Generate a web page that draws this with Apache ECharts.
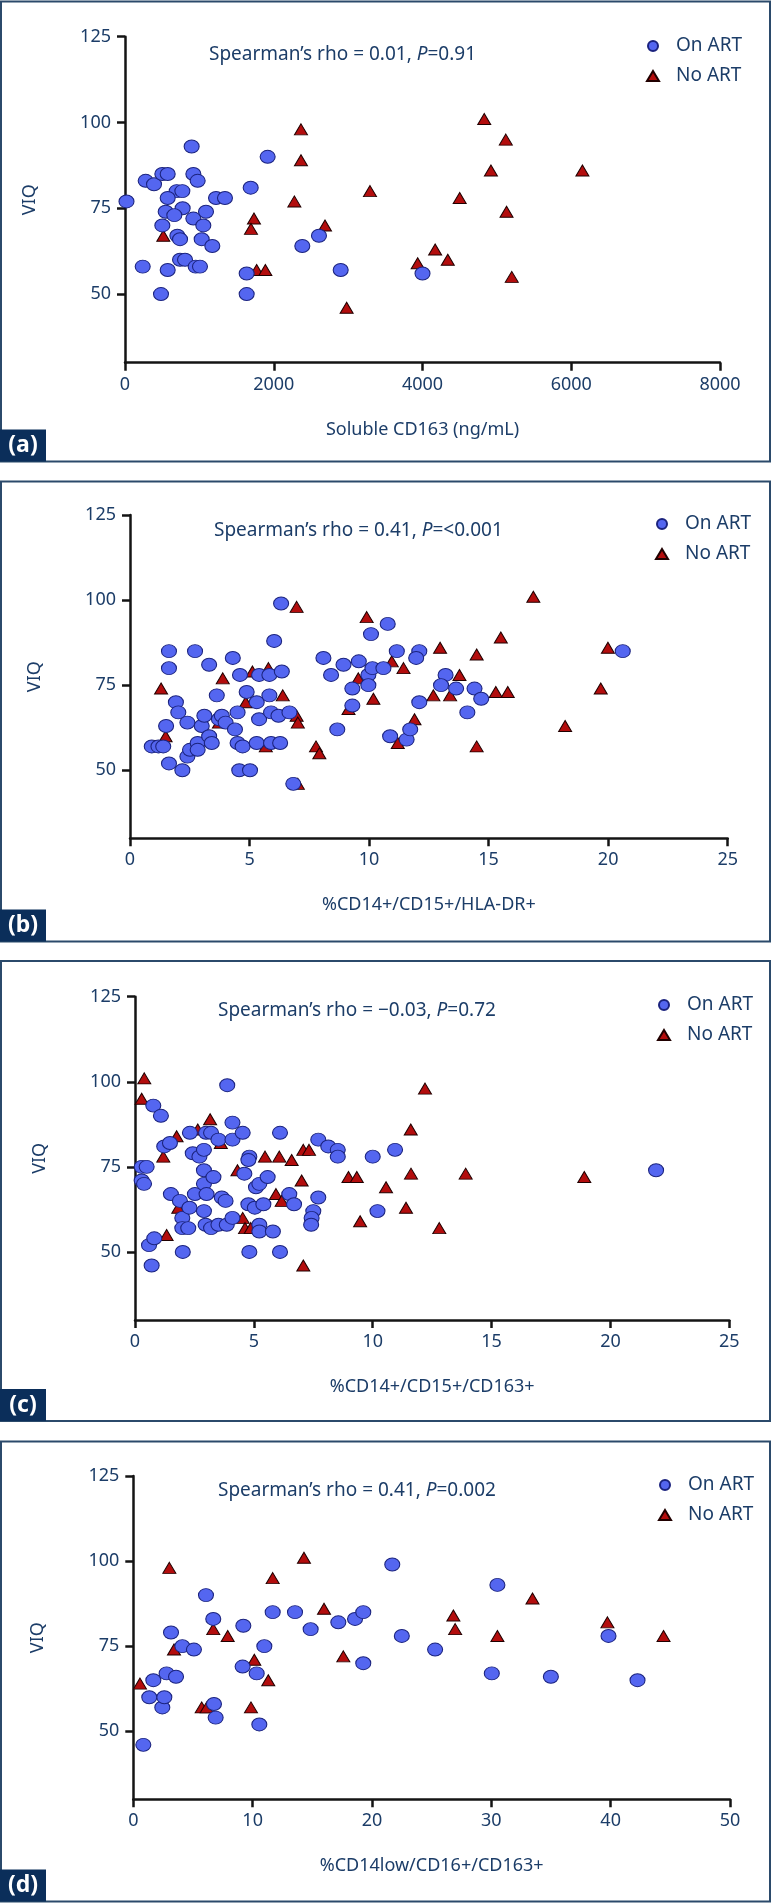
<!DOCTYPE html>
<html><head><meta charset="utf-8">
<script src="https://cdn.jsdelivr.net/npm/echarts@6/dist/echarts.min.js"></script>
<style>html,body{margin:0;padding:0;background:#fff}#c{width:773px;height:1903px}</style>
</head><body><div id="c"></div>
<script>
// ---------- data ----------
const panelLabels = ['(a)', '(b)', '(c)', '(d)'];
const xNames = ['Soluble CD163 (ng/mL)', '%CD14+/CD15+/HLA-DR+', '%CD14+/CD15+/CD163+', '%CD14low/CD16+/CD163+'];
const rhoValues = ['0.01', '0.41', '\u22120.03', '0.41'];
const pValues = ['0.91', '<0.001', '0.72', '0.002'];
const xMax = [8000, 25, 25, 50];
const xStep = [2000, 5, 5, 10];
const yTicks = [50, 75, 100, 125];
const groupNames = ['On ART', 'No ART'];

const aOnART = [[20,77],[278,83],[390,82],[502,85],[574,85],[896,93],[919,85],[977,83],[695,80],[771,80],[574,78],[775,75],[547,74],[663,73],[919,72],[1089,74],[1053,70],[502,70],[704,67],[740,66],[1031,66],[1174,64],[1224,78],[1344,78],[1690,81],[1918,90],[238,58],[574,57],[740,60],[807,60],[950,58],[1008,58],[484,50],[1636,56],[1636,50],[2384,64],[2608,67],[2900,57],[4000,56]];
const aNoART = [[515,67],[2366,98],[2366,89],[2277,77],[1734,72],[1694,69],[1770,57],[1887,57],[2689,70],[3294,80],[2980,46],[4830,101],[5120,95],[4920,86],[6150,86],[4500,78],[5130,74],[4170,63],[4340,60],[3935,59],[5200,55]];

const bOnART = [[0.91,57],[1.19,57],[1.39,57],[1.51,63],[1.63,85],[1.63,80],[1.63,52],[1.92,70],[2.02,67],[2.19,50],[2.40,64],[2.40,54],[2.51,56],[2.72,85],[2.83,58],[2.83,56],[3.0,63],[3.11,66],[3.31,81],[3.31,60],[3.42,58],[3.63,72],[3.72,65],[3.84,66],[4.0,64],[4.30,83],[4.39,62],[4.50,67],[4.50,58],[4.57,50],[4.60,78],[4.71,57],[4.88,73],[5.02,50],[5.30,70],[5.40,78],[5.40,65],[5.30,58],[5.83,78],[5.83,72],[5.90,67],[5.90,58],[6.21,66],[6.28,58],[6.32,99],[6.03,88],[6.35,79],[6.67,67],[6.83,46],[8.09,83],[8.41,78],[8.67,62],[8.93,81],[9.30,74],[9.30,69],[9.57,82],[9.97,78],[9.97,75],[10.08,90],[10.14,80],[10.6,80],[10.78,93],[10.88,60],[11.16,85],[12.10,85],[11.97,83],[13.2,78],[13.01,75],[13.64,74],[14.41,74],[14.69,71],[12.10,70],[14.11,67],[11.57,59],[11.72,62],[20.61,85]];
const bNoART = [[1.30,74],[1.49,60],[3.88,77],[3.72,64],[4.84,70],[5.12,79],[5.79,80],[5.68,57],[6.39,72],[6.97,98],[6.97,66],[7.02,64],[7.02,46],[7.78,57],[7.92,55],[9.14,68],[9.55,77],[9.90,95],[10.18,71],[10.95,82],[11.2,58],[11.44,80],[12.97,86],[12.69,72],[13.39,72],[13.78,78],[11.9,65],[14.5,84],[14.5,57],[15.3,73],[15.8,73],[15.51,89],[16.87,101],[18.2,63],[19.69,74],[19.99,86]];

const cOnART = [[0.28,75],[0.49,75],[0.28,71],[0.38,70],[0.77,93],[1.09,90],[0.59,52],[0.81,54],[0.70,46],[1.23,81],[1.47,82],[1.51,67],[1.89,65],[1.99,60],[1.99,57],[2.24,57],[2.01,50],[2.29,63],[2.31,85],[2.43,79],[2.71,78],[2.90,80],[2.52,67],[2.90,74],[2.90,70],[3.01,67],[2.90,62],[2.97,58],[3.20,57],[2.99,85],[3.20,85],[3.30,72],[3.51,83],[3.51,58],[3.65,66],[3.81,65],[3.88,99],[3.86,58],[4.10,60],[4.10,88],[4.10,83],[4.53,85],[4.60,73],[4.81,78],[4.77,77],[4.77,64],[4.81,50],[5.04,63],[5.09,69],[5.23,70],[5.23,58],[5.23,56],[5.40,64],[5.58,72],[5.80,56],[6.10,85],[6.10,50],[6.49,67],[6.69,64],[7.71,83],[8.13,81],[8.53,80],[8.53,78],[7.71,66],[7.50,62],[7.43,60],[7.41,58],[10.0,78],[10.2,62],[10.94,80],[21.92,74]];
const cNoART = [[0.39,101],[0.28,95],[1.19,78],[1.33,55],[1.75,84],[1.82,63],[2.64,86],[3.16,89],[3.61,82],[4.31,74],[4.53,60],[4.63,57],[4.87,57],[5.47,78],[6.07,78],[5.93,67],[6.17,65],[6.59,77],[7.01,71],[7.08,46],[7.08,80],[7.32,80],[8.98,72],[9.33,72],[9.47,59],[10.56,69],[11.4,63],[11.61,73],[11.6,86],[12.2,98],[12.8,57],[13.91,73],[18.9,72]];

const dOnART = [[0.84,46],[1.34,60],[1.68,65],[2.43,57],[2.60,60],[2.79,67],[3.16,79],[3.58,66],[4.11,75],[5.08,74],[6.09,90],[6.70,83],[6.76,58],[6.90,54],[9.22,81],[9.16,69],[10.34,67],[10.56,52],[10.98,75],[11.68,85],[13.55,85],[14.86,80],[17.18,82],[18.58,83],[19.27,85],[19.27,70],[21.70,99],[22.5,78],[25.29,74],[30.04,67],[30.51,93],[34.99,66],[39.82,78],[42.25,65]];
const dNoART = [[0.56,64],[3.02,98],[3.41,74],[5.73,57],[6.15,57],[6.70,80],[7.91,78],[9.86,57],[10.14,71],[11.31,65],[11.68,95],[14.30,101],[15.98,86],[17.6,72],[26.82,84],[26.97,80],[30.51,78],[33.45,89],[39.73,82],[44.43,78]];

const onARTSets = [aOnART, bOnART, cOnART, dOnART];
const noARTSets = [aNoART, bNoART, cNoART, dNoART];

// ---------- layout / style ----------
const FONT = '"Noto Sans", sans-serif';
const TXT = '#1c3d68';
const AX = '#141414';
const panelTop = [1.5, 481.5, 961, 1441.5];
const grids = [
  {left: 125, top: 36.7, width: 595, height: 326},
  {left: 130, top: 515, width: 597.7, height: 323.3},
  {left: 135, top: 996.7, width: 594.3, height: 323.3},
  {left: 133.3, top: 1476, width: 596.7, height: 323.3}
];
const legendPos = [{left: 641, top: 31}, {left: 650, top: 509}, {left: 652, top: 990}, {left: 653, top: 1470}];

const option = {
  animation: false,
  backgroundColor: '#fff',
  textStyle: {fontFamily: FONT},
  grid: grids.map(g => Object.assign({containLabel: false}, g)),
  xAxis: grids.map((g, i) => ({
    type: 'value', gridIndex: i, min: 0, max: xMax[i], interval: xStep[i],
    axisLine: {show: true, onZero: false, lineStyle: {color: AX, width: 2.5}},
    axisTick: {show: true, length: 8, lineStyle: {color: AX, width: 2.5}},
    axisLabel: {fontSize: 18, color: TXT, margin: 13, fontFamily: FONT, formatter: v => String(v)},
    splitLine: {show: false},
    name: xNames[i], nameLocation: 'middle', nameGap: 58,
    nameTextStyle: {fontSize: 18, color: TXT, fontFamily: FONT}
  })),
  yAxis: grids.map((g, i) => ({
    type: 'value', gridIndex: i, min: 30, max: 125,
    axisLine: {show: true, onZero: false, lineStyle: {color: AX, width: 2.5}},
    axisTick: {show: true, length: 8, lineStyle: {color: AX, width: 2.5}, customValues: yTicks},
    axisLabel: {fontSize: 18, color: TXT, margin: 14, fontFamily: FONT, customValues: yTicks, formatter: v => String(v)},
    splitLine: {show: false},
    name: 'VIQ', nameLocation: 'middle', nameGap: 86,
    nameTextStyle: {fontSize: 18, color: TXT, fontFamily: FONT}
  })),
  legend: legendPos.map((p, i) => ({
    left: p.left, top: p.top, orient: 'vertical',
    itemWidth: 12, itemHeight: 10, itemGap: 10, symbolKeepAspect: false,
    selectedMode: false,
    formatter: n => '{s|}' + n,
    textStyle: {fontSize: 19, color: TXT, fontFamily: FONT, lineHeight: 20,
      rich: {s: {width: 12}}},
    data: [{name: groupNames[0], icon: 'circle'}, {name: groupNames[1], icon: 'triangle'}]
  })),
  title: grids.map((g, i) => ({
    left: [204, 209, 213, 213][i], top: g.top + [15.6, 13.3, 11.6, 13][i] - 12.5,
    text: '{n|Spearman\u2019s rho = ' + rhoValues[i] + ', }{i|P}{n|=' + pValues[i] + '}',
    textStyle: {fontWeight: 'normal', rich: {
      n: {fontSize: 19, color: TXT, fontFamily: FONT, fontWeight: 'normal'},
      i: {fontSize: 19, color: TXT, fontFamily: FONT, fontWeight: 'normal', fontStyle: 'italic'}
    }}
  })),
  series: [],
  graphic: []
};

for (let i = 0; i < 4; i++) {
  option.series.push({
    name: groupNames[0], type: 'scatter', xAxisIndex: i, yAxisIndex: i,
    symbol: 'circle', symbolSize: [15, 13],
    itemStyle: {color: '#5466f0', borderColor: '#1b237e', borderWidth: 1, opacity: 1},
    data: onARTSets[i], z: 3
  });
  option.series.push({
    name: groupNames[1], type: 'scatter', xAxisIndex: i, yAxisIndex: i,
    symbol: 'triangle', symbolSize: [13, 11],
    itemStyle: {color: '#b30d0d', borderColor: '#200000', borderWidth: 1, opacity: 1},
    data: noARTSets[i], z: 2
  });
  const T = panelTop[i];
  option.graphic.push(
    {type: 'rect', shape: {x: 1, y: T, width: 769, height: 460}, style: {fill: 'none', stroke: '#2b4a6b', lineWidth: 2}, z: 1},
    {type: 'rect', shape: {x: 0, y: T + 428, width: 46, height: 32}, style: {fill: '#0b2e5a'}, z: 2},
    {type: 'text', x: 23, y: T + 444, style: {text: panelLabels[i], fill: '#fff', font: 'bold 23px ' + FONT, align: 'center', verticalAlign: 'middle'}, z: 3}
  );
}

const chart = echarts.init(document.getElementById('c'), null, {renderer: 'canvas'});
chart.setOption(option);
</script></body></html>
